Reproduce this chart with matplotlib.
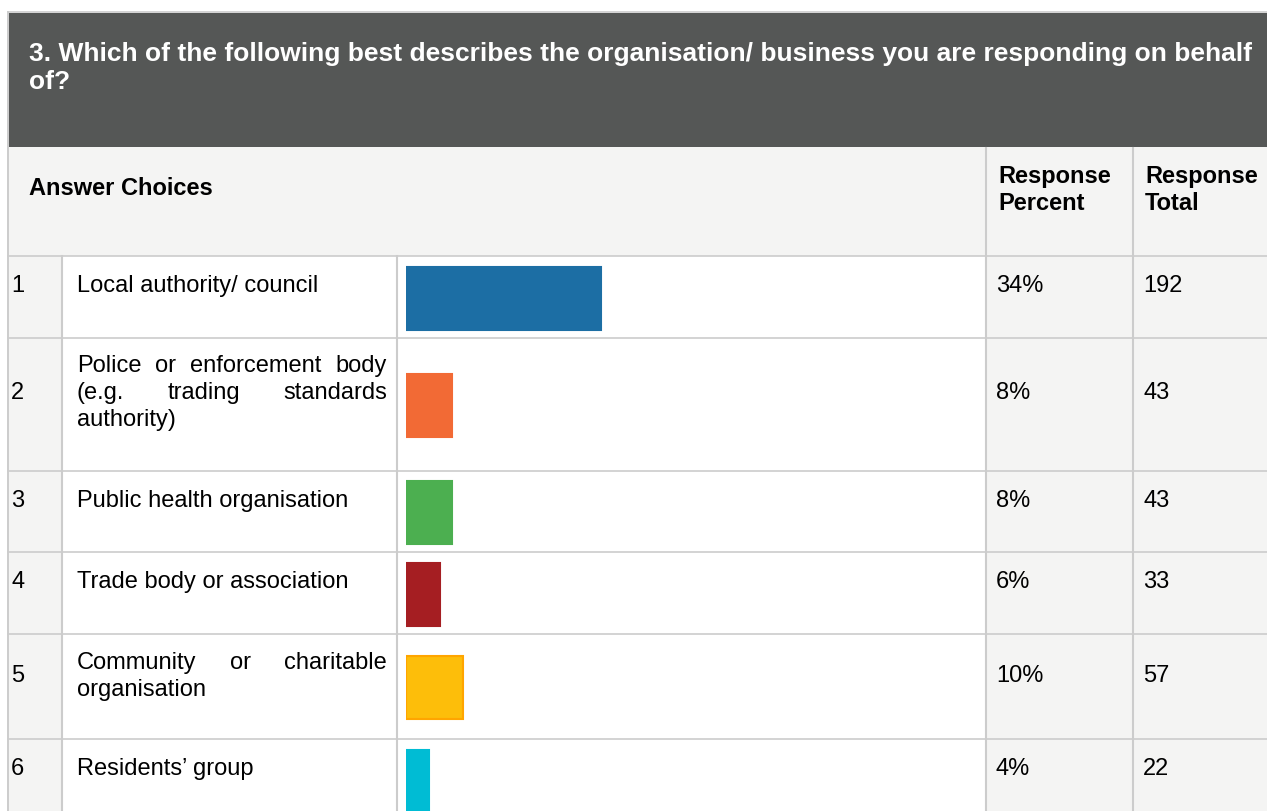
import matplotlib
matplotlib.use('Agg')
import matplotlib.pyplot as plt
from matplotlib.patches import Rectangle

plt.rcParams['font.family'] = ['Liberation Sans', 'DejaVu Sans']

# data
title_lines = ["3. Which of the following best describes the organisation/ business you are responding on behalf",
               "of?"]
row_numbers = ["1", "2", "3", "4", "5", "6"]
choices = [
    ["Local authority/ council"],
    ["Police or enforcement body", "(e.g. trading standards", "authority)"],
    ["Public health organisation"],
    ["Trade body or association"],
    ["Community or charitable", "organisation"],
    ["Residents\u2019 group"],
]
percents = [34, 8, 8, 6, 10, 4]
totals = [192, 43, 43, 33, 57, 22]
bar_colors = ["#1c6ea4", "#f26a35", "#4caf50", "#a51e22", "#fdbe0a", "#00bcd4"]
bar_edges = ["#1c6ea4", "#f26a35", "#4caf50", "#a51e22", "#ffa500", "#00bcd4"]

# layout (pixels)
W, H = 1267, 812
row_top = [257, 339, 472, 553, 635, 740]
row_bot = row_top[1:] + [823]
first_base = [292, 372, 507, 588, 669, 775]
line_gap = 27
FS = 17
dark = "#555756"
light = "#f4f4f3"
grid = "#cccccc"

fig = plt.figure(figsize=(W / 100, H / 100), dpi=100)
ax = fig.add_axes([0, 0, 1, 1])
ax.set_xlim(0, W)
ax.set_ylim(H, 0)
ax.axis('off')
renderer = fig.canvas.get_renderer()

# backgrounds
ax.add_patch(Rectangle((9, 14), W - 9, 134, color=dark, lw=0))
ax.add_patch(Rectangle((9, 148), W - 9, 257 - 148, color=light, lw=0))
ax.add_patch(Rectangle((9, 257), 62 - 9, 823 - 257, color=light, lw=0))
ax.add_patch(Rectangle((986, 257), W - 986, 823 - 257, color=light, lw=0))

# grid lines
ax.plot([8, W], [13, 13], color=grid, lw=1.2)
ax.plot([8, 8], [13, H], color=grid, lw=1.4)
for y in row_top:
    ax.plot([8, W], [y, y], color=grid, lw=1.2)
for x in [62, 397]:
    ax.plot([x, x], [257, H], color=grid, lw=1.5)
for x in [986, 1133]:
    ax.plot([x, x], [149, H], color=grid, lw=1.5)

# header text
for i, line in enumerate(title_lines):
    ax.text(29, 61 + i * 28, line, color="white", fontsize=19, fontweight="bold", va="baseline")
ax.text(29, 195, "Answer Choices", fontsize=FS, fontweight="bold", va="baseline")
for x, words in [(998, ["Response", "Percent"]), (1145, ["Response", "Total"])]:
    for j, w in enumerate(words):
        ax.text(x, 183 + j * 27, w, fontsize=FS, fontweight="bold", va="baseline")


def justify(words, x0, x1, y):
    texts = [ax.text(0, y, w, fontsize=FS, va="baseline") for w in words]
    widths = [t.get_window_extent(renderer).width for t in texts]
    gap = (x1 - x0 - sum(widths)) / (len(words) - 1)
    x = x0
    for t, w in zip(texts, widths):
        t.set_x(x)
        x += w + gap


for i, lines in enumerate(choices):
    base = first_base[i]
    mid = base + line_gap * (len(lines) - 1) / 2
    ax.text(11, mid, row_numbers[i], fontsize=FS, va="baseline")
    ax.text(996, mid, "%d%%" % percents[i], fontsize=FS, va="baseline")
    ax.text(1143, mid, str(totals[i]), fontsize=FS, va="baseline")
    for j, line in enumerate(lines):
        y = base + j * line_gap
        if j < len(lines) - 1:
            justify(line.split(), 77, 387, y)
        else:
            ax.text(77, y, line, fontsize=FS, va="baseline")

# bars
bax = fig.add_axes([406 / W, 0, 574 / W, (H - 257) / H])
bax.set_xlim(0, 100)
bax.set_ylim(H, 257)
bax.axis('off')
centers = [(a + b) / 2 + 1 for a, b in zip(row_top, row_bot)]
bax.barh(centers, percents, height=63, color=bar_colors, edgecolor=bar_edges, linewidth=1.5)

fig.savefig("out.png", dpi=100)
